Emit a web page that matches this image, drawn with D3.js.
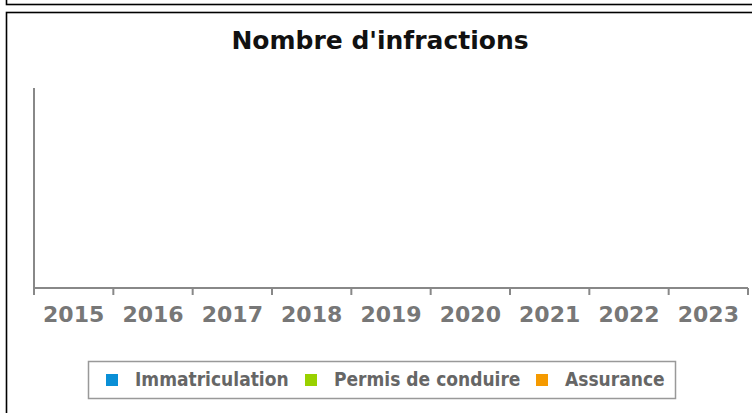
<!DOCTYPE html>
<html>
<head>
<meta charset="utf-8">
<script src="https://cdn.jsdelivr.net/npm/d3@7"></script>
<style>
  body { margin: 0; background: #fff; }
  svg { display: block; }
</style>
</head>
<body>
<svg id="chart"></svg>
<script>
// years on the x axis
var years = ["2015", "2016", "2017", "2018", "2019", "2020", "2021", "2022", "2023"]
// series (no infractions shown in the chart, bars are empty)
var seriesNames = ["Immatriculation", "Permis de conduire", "Assurance"]
var seriesColors = ["#0a8fd6", "#99d100", "#f59a00"]
var immatriculation = [0, 0, 0, 0, 0, 0, 0, 0, 0]
var permis = [0, 0, 0, 0, 0, 0, 0, 0, 0]
var assurance = [0, 0, 0, 0, 0, 0, 0, 0, 0]

var dimensions = {
    width: 752,
    height: 413,
    margin: {
        top: 88,
        bottom: 125,
        right: 4,
        left: 34
    }
}
dimensions.boundedWidth = dimensions.width - dimensions.margin.left - dimensions.margin.right
dimensions.boundedHeight = dimensions.height - dimensions.margin.top - dimensions.margin.bottom

var svg = d3.select("#chart")
    .attr("width", dimensions.width)
    .attr("height", dimensions.height)

// frames around the page
svg.append("rect")
    .attr("x", 6.5).attr("y", -20).attr("width", 800).attr("height", 24.5)
    .attr("fill", "none").attr("stroke", "#000").attr("stroke-width", 1.6)
svg.append("rect")
    .attr("x", 6.5).attr("y", 12.5).attr("width", 800).attr("height", 450)
    .attr("fill", "none").attr("stroke", "#000").attr("stroke-width", 1.6)

// title
svg.append("text")
    .attr("x", 380)
    .attr("y", 49)
    .attr("text-anchor", "middle")
    .style("font-family", "DejaVu Sans")
    .style("font-weight", "bold")
    .style("font-size", "25px")
    .style("fill", "#111")
    .text("Nombre d'infractions")

var bounds = svg.append("g")
    .attr("transform", "translate(" + dimensions.margin.left + "," + dimensions.margin.top + ")")

var data = years.map(function (y, i) {
    return { year: y, values: [immatriculation[i], permis[i], assurance[i]] }
})

var xScale = d3.scaleBand()
    .domain(years)
    .range([0, dimensions.boundedWidth])

var xInner = d3.scaleBand()
    .domain(seriesNames)
    .range([0, xScale.bandwidth()])
    .padding(0.1)

var yScale = d3.scaleLinear()
    .domain([0, d3.max(data, d => d3.max(d.values)) || 1])
    .range([dimensions.boundedHeight, 0])

// bars
bounds.selectAll("g.year")
    .data(data)
    .enter()
    .append("g")
    .attr("class", "year")
    .attr("transform", d => "translate(" + xScale(d.year) + ",0)")
    .selectAll("rect")
    .data(d => d.values.map((v, i) => ({ name: seriesNames[i], value: v, color: seriesColors[i] })))
    .enter()
    .append("rect")
    .attr("x", d => xInner(d.name))
    .attr("width", xInner.bandwidth())
    .attr("y", d => yScale(d.value))
    .attr("height", d => dimensions.boundedHeight - yScale(d.value))
    .attr("fill", d => d.color)

// x axis with ticks at band edges
var xAxis = bounds.append("g")
    .attr("transform", "translate(0," + dimensions.boundedHeight + ")")

xAxis.append("line")
    .attr("x1", 0).attr("x2", dimensions.boundedWidth)
    .attr("stroke", "#888").attr("stroke-width", 2)

var edges = years.map(y => xScale(y)).concat([dimensions.boundedWidth])
xAxis.selectAll("line.tick")
    .data(edges)
    .enter()
    .append("line")
    .attr("class", "tick")
    .attr("x1", d => d).attr("x2", d => d)
    .attr("y1", 0).attr("y2", 7)
    .attr("stroke", "#888").attr("stroke-width", 2)

xAxis.selectAll("text")
    .data(years)
    .enter()
    .append("text")
    .attr("x", d => xScale(d) + xScale.bandwidth() / 2)
    .attr("y", 34)
    .attr("text-anchor", "middle")
    .style("font-family", "DejaVu Sans")
    .style("font-weight", "bold")
    .style("font-size", "22px")
    .style("fill", "#777")
    .text(d => d)

// y axis line
bounds.append("line")
    .attr("x1", 0).attr("x2", 0)
    .attr("y1", 0).attr("y2", dimensions.boundedHeight + 7)
    .attr("stroke", "#888").attr("stroke-width", 2)

// legend
var legend = svg.append("g")
legend.append("rect")
    .attr("x", 88.5).attr("y", 361.5).attr("width", 587).attr("height", 37)
    .attr("fill", "none").attr("stroke", "#999").attr("stroke-width", 1.5)

var legendX = [106, 305, 536]
var items = legend.selectAll("g.item")
    .data(seriesNames)
    .enter()
    .append("g")
    .attr("class", "item")
    .attr("transform", (d, i) => "translate(" + legendX[i] + ",374)")

items.append("rect")
    .attr("width", 12).attr("height", 12)
    .attr("fill", (d, i) => seriesColors[i])

items.append("text")
    .attr("x", 29)
    .attr("y", 12)
    .style("font-family", "DejaVu Sans Condensed")
    .style("font-weight", "bold")
    .style("font-size", "19px")
    .style("fill", "#666")
    .text(d => d)
</script>
</body>
</html>
